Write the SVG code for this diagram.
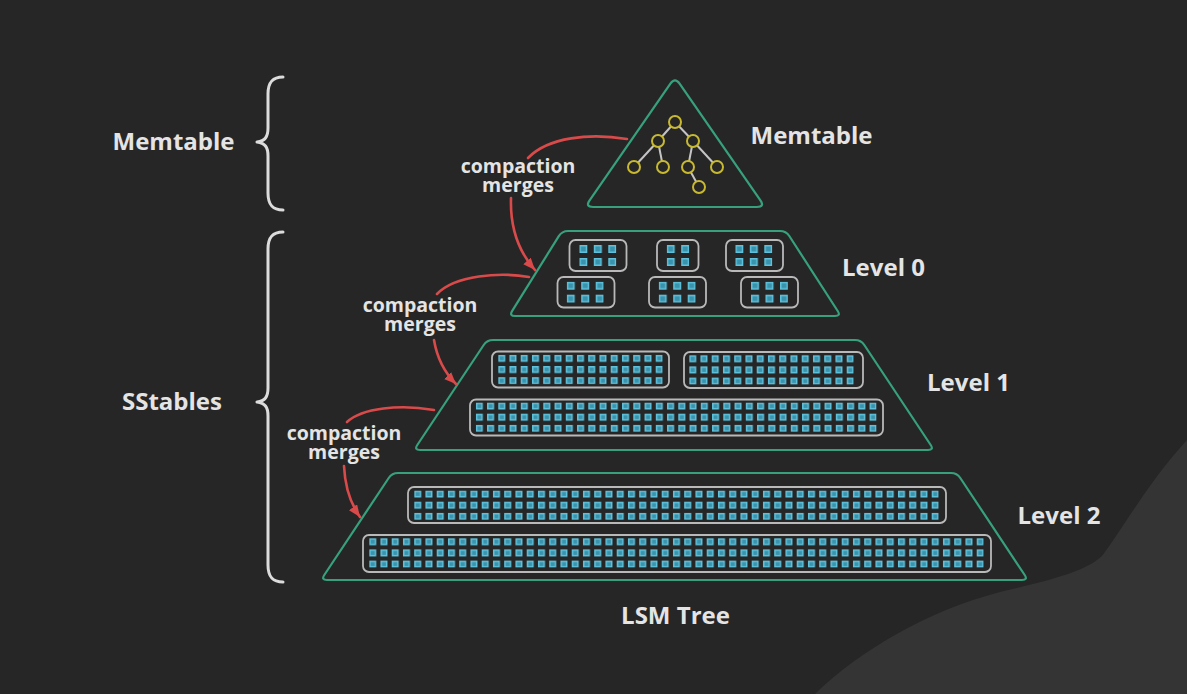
<svg xmlns="http://www.w3.org/2000/svg" width="1187" height="694" viewBox="0 0 1187 694">
<style>
.title{font-family:"Open Sans","Liberation Sans",sans-serif;font-weight:700;font-size:24px;fill:#e4e4e4;text-anchor:middle}
.lbl{font-family:"Open Sans","Liberation Sans",sans-serif;font-weight:700;font-size:19.5px;fill:#e4e4e4;text-anchor:middle}
.lvl{fill:none;stroke:#36a17c;stroke-width:2.2}
.tbl{fill:none;stroke:#b9b9b9;stroke-width:1.8}
.brace{fill:none;stroke:#dcdcdc;stroke-width:3;stroke-linecap:round;stroke-linejoin:round}
.conn{fill:none;stroke:#d94a4a;stroke-width:2.6;stroke-linecap:round}
.edge{stroke:#c4c4c4;stroke-width:2}
.node{fill:#262626;stroke:#c9b92e;stroke-width:2}
</style>
<defs>
<pattern id="sq" patternUnits="userSpaceOnUse" width="11.25" height="11.2">
<rect x="0.75" y="0.75" width="5.5" height="5.5" fill="#3a93ad" stroke="#5fc2dc" stroke-width="1.5"/>
</pattern>
<pattern id="sq0" patternUnits="userSpaceOnUse" width="14.5" height="13">
<rect x="0.75" y="0.75" width="6.5" height="6.5" fill="#3a93ad" stroke="#5fc2dc" stroke-width="1.5"/>
</pattern>
<marker id="ah" markerUnits="userSpaceOnUse" markerWidth="14" markerHeight="12" refX="12" refY="5" orient="auto">
<path d="M0,0 L12,5 L0,10 Z" fill="#d94a4a"/>
</marker>
</defs>
<rect width="1187" height="694" fill="#262626"/>
<path d="M 815 694 C 860 650, 930 610, 1000 592 C 1050 580, 1085 572, 1102 556 C 1125 525, 1150 480, 1187 440 L 1187 694 Z" fill="#343434"/>

<g id="brace-memtable">
<path class="brace" d="M 283 77 C 272 77, 268 83, 268 94 L 268 128 C 268 137, 265 141, 257 142 C 265 143, 268 147, 268 156 L 268 193 C 268 204, 272 210, 283 210"/>
<text class="title" x="173.5" y="150">Memtable</text>
</g>
<g id="brace-sstables">
<path class="brace" d="M 283 232 C 272 232, 268 238, 268 249 L 268 388 C 268 397, 265 401, 257 402 C 265 403, 268 407, 268 416 L 268 565 C 268 576, 272 582, 283 582"/>
<text class="title" x="172" y="410">SStables</text>
</g>

<g id="memtable">
<path class="lvl" d="M 679.6 83.6 L 760.4 200.4 Q 765 207 757 207 L 593 207 Q 585 207 589.6 200.4 L 670.4 83.6 Q 675 77 679.6 83.6 Z"/>
<line class="edge" x1="675" y1="122" x2="658" y2="141"/>
<line class="edge" x1="675" y1="122" x2="693" y2="141"/>
<line class="edge" x1="658" y1="141" x2="634" y2="167"/>
<line class="edge" x1="658" y1="141" x2="663" y2="167"/>
<line class="edge" x1="693" y1="141" x2="688" y2="167"/>
<line class="edge" x1="693" y1="141" x2="717" y2="167"/>
<line class="edge" x1="688" y1="167" x2="699" y2="187"/>
<circle class="node" cx="675" cy="122" r="6"/>
<circle class="node" cx="658" cy="141" r="6"/>
<circle class="node" cx="693" cy="141" r="6"/>
<circle class="node" cx="634" cy="167" r="6"/>
<circle class="node" cx="663" cy="167" r="6"/>
<circle class="node" cx="688" cy="167" r="6"/>
<circle class="node" cx="717" cy="167" r="6"/>
<circle class="node" cx="699" cy="187" r="6"/>
<text class="title" x="811.5" y="144">Memtable</text>
</g>

<g id="level0">
<path class="lvl" d="M 568 231 L 780 231 Q 786 231 789.3 236 L 837.7 311 Q 841 316 835 316 L 515 316 Q 509 316 512.2 310.9 L 558.8 236.1 Q 562 231 568 231 Z"/>
<rect class="tbl" x="569.5" y="240" width="57" height="31" rx="6"/>
<rect class="tbl" x="657" y="240" width="41.5" height="31" rx="6"/>
<rect class="tbl" x="726" y="240" width="57" height="31" rx="6"/>
<rect class="tbl" x="557.5" y="277" width="57" height="30.5" rx="6"/>
<rect class="tbl" x="649" y="277" width="57" height="30.5" rx="6"/>
<rect class="tbl" x="741" y="277" width="57" height="30.5" rx="6"/>
<rect fill="url(#sq0)" transform="translate(579.3 245)" width="37" height="21"/>
<rect fill="url(#sq0)" transform="translate(666.7 245)" width="22.5" height="21"/>
<rect fill="url(#sq0)" transform="translate(735.3 245)" width="37" height="21"/>
<rect fill="url(#sq0)" transform="translate(566.7 281.7)" width="37" height="21"/>
<rect fill="url(#sq0)" transform="translate(658.7 281.7)" width="37" height="21"/>
<rect fill="url(#sq0)" transform="translate(751 281.7)" width="37" height="21"/>
<text class="title" x="883.5" y="276">Level 0</text>
</g>

<g id="level1">
<path class="lvl" d="M 493 340 L 855 340 Q 861 340 864.3 345 L 930.7 445 Q 934 450 928 450 L 420 450 Q 414 450 417.3 445 L 483.7 345 Q 487 340 493 340 Z"/>
<rect class="tbl" x="492" y="351.5" width="177" height="36" rx="6"/>
<rect class="tbl" x="684" y="352" width="179" height="36" rx="6"/>
<rect class="tbl" x="470" y="399.5" width="413" height="36" rx="6"/>
<rect fill="url(#sq)" transform="translate(498.2 354.8)" width="164.5" height="29.4"/>
<rect fill="url(#sq)" transform="translate(689.2 355.2)" width="164.5" height="29.4"/>
<rect fill="url(#sq)" transform="translate(475.8 402.5)" width="400.75" height="29.4"/>
<text class="title" x="968.5" y="391">Level 1</text>
</g>

<g id="level2">
<path class="lvl" d="M 398 473 L 951 473 Q 957 473 960.3 478 L 1024.7 575 Q 1028 580 1022 580 L 327 580 Q 321 580 324.3 575 L 388.7 478 Q 392 473 398 473 Z"/>
<rect class="tbl" x="408" y="487" width="538" height="36" rx="6"/>
<rect class="tbl" x="363" y="535" width="628" height="37" rx="6"/>
<rect fill="url(#sq)" transform="translate(414.2 490.5)" width="524.5" height="29.4"/>
<rect fill="url(#sq)" transform="translate(369.2 538.2)" width="614.5" height="29.4"/>
<text class="title" x="1059" y="524">Level 2</text>
</g>

<g id="connectors">
<path class="conn" d="M 627 139 C 590 133, 548 137, 528 158"/>
<path class="conn" d="M 511 198 C 510 228, 519 252, 535 270" marker-end="url(#ah)"/>
<path class="conn" d="M 529 277 C 500 272, 455 275, 437 294"/>
<path class="conn" d="M 434 340 C 437 358, 444 372, 456 384" marker-end="url(#ah)"/>
<path class="conn" d="M 434 410 C 400 404, 362 408, 347 422"/>
<path class="conn" d="M 344 466 C 345 487, 350 503, 360 517" marker-end="url(#ah)"/>
</g>

<g id="labels">
<text class="lbl" x="518" y="173">compaction<tspan x="518" dy="19">merges</tspan></text>
<text class="lbl" x="420" y="312">compaction<tspan x="420" dy="19">merges</tspan></text>
<text class="lbl" x="344" y="440">compaction<tspan x="344" dy="19">merges</tspan></text>
</g>

<g id="caption">
<text class="title" x="675.5" y="624">LSM Tree</text>
</g>
</svg>
